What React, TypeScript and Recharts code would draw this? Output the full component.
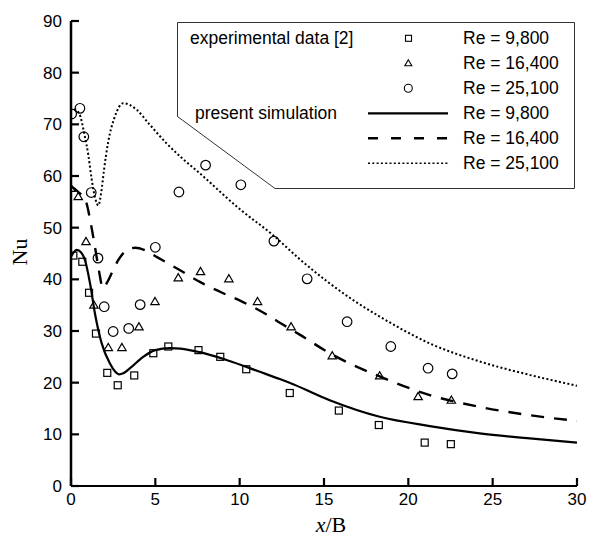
import React from 'react';
import { ComposedChart, Line, Scatter, XAxis, YAxis } from 'recharts';

const xTicks = [0, 5, 10, 15, 20, 25, 30];
const yTicks = [0, 10, 20, 30, 40, 50, 60, 70, 80, 90];

const legendLabels = ['Re = 9,800', 'Re = 16,400', 'Re = 25,100'];

// experimental data [2]
const exp9800: [number, number][] = [
  [0.14, 44.6], [0.67, 43.4], [1.07, 37.4], [1.48, 29.5], [2.15, 21.9], [2.77, 19.5],
  [3.75, 21.4], [4.88, 25.7], [5.77, 27.0], [7.56, 26.3], [8.85, 25.0], [10.39, 22.6],
  [12.97, 18.0], [15.88, 14.6], [18.25, 11.8], [20.97, 8.4], [22.52, 8.1],
];
const exp16400: [number, number][] = [
  [0.0, 57.6], [0.43, 56.0], [0.89, 47.3], [1.36, 35.0], [2.21, 26.8], [3.02, 26.8],
  [4.03, 30.8], [4.98, 35.7], [6.36, 40.3], [7.68, 41.5], [9.36, 40.1], [11.06, 35.7],
  [13.05, 30.8], [15.49, 25.2], [18.3, 21.3], [20.58, 17.3], [22.55, 16.6],
];
const exp25100: [number, number][] = [
  [0.04, 72.0], [0.53, 73.1], [0.76, 67.6], [1.2, 56.8], [1.6, 44.1], [1.97, 34.7],
  [2.5, 29.9], [3.42, 30.5], [4.1, 35.1], [5.0, 46.2], [6.4, 56.9], [7.98, 62.1],
  [10.07, 58.3], [12.03, 47.4], [14.0, 40.1], [16.37, 31.8], [18.96, 27.0], [21.17, 22.8],
  [22.6, 21.7],
];

// present simulation
const sim9800: [number, number][] = [
  [0, 44.4], [0.34, 45.7], [0.6, 45.2], [0.83, 43.7], [1.13, 39.2], [1.42, 33.4],
  [1.82, 27.6], [2.31, 23.7], [2.6, 22.2], [2.86, 21.6], [3.1, 21.8], [3.5, 22.8],
  [4.28, 25.0], [5.0, 26.3], [5.86, 26.7], [6.5, 26.6], [7.64, 25.9], [9.22, 24.4],
  [11.2, 22.1], [12.38, 20.7], [13.17, 19.7], [15.34, 16.6], [18.3, 13.4], [21.27, 11.6],
  [24.23, 10.2], [27.2, 9.2], [30, 8.4],
];
const sim16400: [number, number][] = [
  [0, 58.0], [0.4, 57.0], [0.89, 55.0], [1.18, 50.7], [1.42, 46.3], [1.64, 42.0],
  [1.9, 38.3], [2.16, 39.5], [2.5, 41.8], [2.8, 43.7], [3.3, 45.6], [3.81, 46.1],
  [4.4, 45.6], [5.1, 44.3], [6.34, 42.0], [7.64, 39.5], [8.9, 37.5], [10.2, 35.6],
  [11.6, 33.2], [12.38, 31.6], [13.56, 29.3], [15.34, 25.7], [18.3, 21.2], [21.27, 17.6],
  [24.23, 15.3], [27.2, 13.7], [30, 12.6],
];
const sim25100: [number, number][] = [
  [0.2, 73.0], [0.5, 72.0], [0.8, 68.0], [1.03, 64.0], [1.22, 59.5], [1.45, 55.5],
  [1.62, 54.3], [1.8, 57.0], [1.95, 61.0], [2.2, 66.5], [2.6, 71.5], [3.1, 74.1],
  [3.9, 72.8], [4.6, 70.2], [5.67, 66.3], [6.6, 63.4], [7.64, 60.5], [10.0, 53.6],
  [12.0, 48.5], [13.56, 43.9], [16.72, 36.0], [18.3, 32.8], [21.27, 27.6], [24.23, 24.1],
  [27.2, 21.5], [30, 19.4],
];

const toPts = (a: [number, number][]) => a.map(([x, y]) => ({ x, y }));

const FONT = '"Liberation Sans", Arial, Helvetica, sans-serif';
const SERIF = '"Liberation Serif", "Times New Roman", serif';

const SquareShape = (p: any) => (
  <rect x={p.cx - 3.5} y={p.cy - 3.5} width={7} height={7} fill="none" stroke="#000" strokeWidth={1.2} />
);
const TriangleShape = (p: any) => (
  <polygon
    points={`${p.cx},${p.cy - 4.2} ${p.cx - 4.2},${p.cy + 3} ${p.cx + 4.2},${p.cy + 3}`}
    fill="none"
    stroke="#000"
    strokeWidth={1.2}
  />
);
const CircleShape = (p: any) => (
  <circle cx={p.cx} cy={p.cy} r={4.8} fill="none" stroke="#000" strokeWidth={1.2} />
);

// tick mark drawn inward from the axis plus its label
const YTick = (p: any) => (
  <g>
    <line x1={p.x + 9} x2={p.x + 17} y1={p.y} y2={p.y} stroke="#000" strokeWidth={2.2} />
    <text x={p.x} y={p.y} dy="0.36em" textAnchor="end" fontFamily={FONT} fontSize={17} fill="#000">
      {p.payload.value}
    </text>
  </g>
);
const XTick = (p: any) => (
  <g>
    <line x1={p.x} x2={p.x} y1={p.y - 7} y2={p.y - 15} stroke="#000" strokeWidth={2.2} />
    <text x={p.x} y={p.y} dy="0.72em" textAnchor="middle" fontFamily={FONT} fontSize={17} fill="#000">
      {p.payload.value}
    </text>
  </g>
);

const DASH = '13 10';
const DOT = '2 2.3';

export default function App() {
  const rows = [38.3, 63.3, 88.3, 113.3, 138.3, 163.3];
  return (
    <div style={{ position: 'absolute', left: 0, top: 0, width: 600, height: 548, background: '#fff' }}>
      <ComposedChart width={600} height={548} margin={{ top: 21, right: 23, bottom: 0, left: 0 }}>
        <XAxis
          type="number"
          dataKey="x"
          domain={[0, 30]}
          ticks={xTicks}
          allowDataOverflow
          height={62}
          tickSize={0}
          tickMargin={7}
          tickLine={false}
          axisLine={{ stroke: '#000', strokeWidth: 2 }}
          tick={XTick}
        />
        <YAxis
          type="number"
          dataKey="y"
          domain={[0, 90]}
          ticks={yTicks}
          allowDataOverflow
          width={71}
          tickSize={0}
          tickMargin={9}
          tickLine={false}
          axisLine={{ stroke: '#000', strokeWidth: 2.5 }}
          tick={YTick}
        />
        <Line data={toPts(sim9800)} dataKey="y" type="monotone" stroke="#000" strokeWidth={2.2} dot={false} isAnimationActive={false} />
        <Line data={toPts(sim16400)} dataKey="y" type="monotone" stroke="#000" strokeWidth={2.4} strokeDasharray={DASH} dot={false} isAnimationActive={false} />
        <Line data={toPts(sim25100)} dataKey="y" type="monotone" stroke="#000" strokeWidth={2} strokeDasharray={DOT} dot={false} isAnimationActive={false} />
        <Scatter data={toPts(exp9800)} dataKey="y" shape={SquareShape} isAnimationActive={false} />
        <Scatter data={toPts(exp16400)} dataKey="y" shape={TriangleShape} isAnimationActive={false} />
        <Scatter data={toPts(exp25100)} dataKey="y" shape={CircleShape} isAnimationActive={false} />
      </ComposedChart>
      <svg
        width={600}
        height={548}
        style={{ position: 'absolute', left: 0, top: 0, pointerEvents: 'none' }}
      >
        <polygon
          points="177.5,22.5 574.5,22.5 574.5,188.5 275,188.5 177.5,116.5"
          fill="#fff"
          stroke="#333"
          strokeWidth={1}
        />
        <g fontFamily={FONT} fontSize={17.5} fill="#000">
          <text x={190} y={rows[0]} dy="0.35em">experimental data [2]</text>
          <text x={195} y={rows[3]} dy="0.35em">present simulation</text>
          {legendLabels.map((l, i) => (
            <text key={'a' + i} x={463} y={rows[i]} dy="0.35em">{l}</text>
          ))}
          {legendLabels.map((l, i) => (
            <text key={'b' + i} x={463} y={rows[i + 3]} dy="0.35em">{l}</text>
          ))}
        </g>
        <rect x={405.5} y={rows[0] - 3} width={6} height={6} fill="none" stroke="#000" strokeWidth={1.1} />
        <polygon
          points={`408.3,${rows[1] - 3.5} 404.8,${rows[1] + 2.5} 411.8,${rows[1] + 2.5}`}
          fill="none"
          stroke="#000"
          strokeWidth={1.1}
        />
        <circle cx={408.3} cy={rows[2]} r={4} fill="none" stroke="#000" strokeWidth={1.1} />
        <line x1={368} x2={448} y1={rows[3]} y2={rows[3]} stroke="#000" strokeWidth={2.2} />
        <line x1={368} x2={448} y1={rows[4]} y2={rows[4]} stroke="#000" strokeWidth={2.4} strokeDasharray="10 13" />
        <line x1={368} x2={448} y1={rows[5]} y2={rows[5]} stroke="#000" strokeWidth={1.6} strokeDasharray={DOT} />
        <text
          x={0}
          y={0}
          transform="translate(27,252) rotate(-90)"
          textAnchor="middle"
          fontFamily={SERIF}
          fontSize={22}
          fill="#000"
        >
          Nu
        </text>
        <text x={331} y={532} textAnchor="middle" fontFamily={SERIF} fontSize={22} fill="#000">
          <tspan fontStyle="italic">x</tspan>/B
        </text>
      </svg>
    </div>
  );
}
